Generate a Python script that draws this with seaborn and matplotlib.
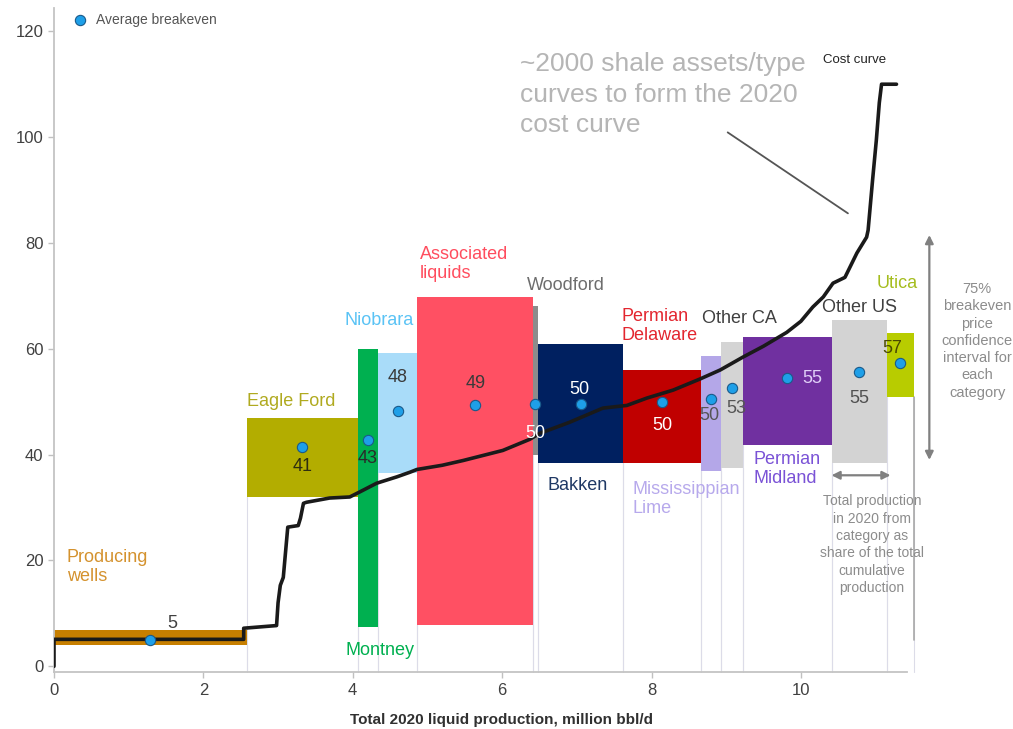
import numpy as np
import pandas as pd
import matplotlib
matplotlib.use("Agg")
import matplotlib.pyplot as plt
import seaborn as sns

# ---------------- data ----------------
categories = ["Producing wells", "Eagle Ford", "Montney", "Niobrara", "Associated liquids",
              "Woodford", "Bakken", "Permian Delaware", "Mississippian Lime", "Other CA",
              "Permian Midland", "Other US", "Utica"]
production = [2.58, 1.49, 0.27, 0.52, 1.55, 0.07, 1.14, 1.04, 0.27, 0.29, 1.19, 0.74, 0.36]
ci_low = [4.1, 32.0, 7.5, 36.6, 7.8, 40.0, 38.4, 38.4, 37.0, 37.5, 41.8, 38.4, 50.9]
ci_high = [6.8, 47.0, 60.0, 59.3, 69.8, 68.0, 61.0, 56.0, 58.6, 61.3, 62.2, 65.4, 63.0]
avg_breakeven = [5.0, 41.4, 42.7, 48.2, 49.3, 49.5, 49.5, 49.9, 50.5, 52.5, 54.4, 55.6, 57.3]
avg_labels = ["5", "41", "43", "48", "49", "50", "50", "50", "50", "53", "55", "55", "57"]

curve_x = [0, 0, 2.54, 2.54, 2.98, 3.0, 3.03, 3.07, 3.13, 3.27, 3.3, 3.34, 3.38, 3.69, 3.96,
           4.1, 4.32, 4.59, 4.77, 4.86, 5.2, 5.48, 6.01, 6.37, 6.5, 6.9, 7.35, 7.67, 7.94,
           8.29, 8.65, 8.92, 9.22, 9.5, 9.81, 10.0, 10.16, 10.3, 10.43, 10.59, 10.75, 10.88,
           10.9, 10.96, 11.01, 11.05, 11.08, 11.28]
curve_y = [0, 5.1, 5.1, 7.2, 7.7, 12.0, 15.3, 16.8, 26.3, 26.6, 28.0, 30.8, 31.0, 31.8, 32.0,
           33.0, 34.6, 35.8, 36.7, 37.2, 38.0, 38.9, 40.8, 42.9, 44.0, 46.1, 48.8, 49.3, 50.7,
           52.2, 54.3, 56.0, 58.4, 60.5, 63.1, 65.2, 67.9, 69.8, 72.4, 73.5, 78.1, 81.1,
           82.4, 91.9, 99.4, 106.5, 110.0, 110.0]

# ---------------- styles / layout ----------------
box_colors = ["#c77f00", "#b3ad00", "#00b050", "#a9dcf9", "#ff5063", "#8c8c8c", "#002060",
              "#c00000", "#b4a7e8", "#d4d4d4", "#7030a0", "#d3d3d3", "#b8cc00"]
name_text = ["Producing\nwells", "Eagle Ford", "Montney", "Niobrara", "Associated\nliquids",
             "Woodford", "Bakken", "Permian\nDelaware", "Mississippian\nLime", "Other CA",
             "Permian\nMidland", "Other US", "Utica"]
name_pos = [(0.17, 18.8, "left"), (2.58, 50.1, "left"), (4.36, 3.0, "center"),
            (4.35, 65.4, "center"), (4.9, 76.1, "left"), (6.33, 72.0, "left"),
            (6.61, 34.2, "left"), (7.6, 64.3, "left"), (7.74, 31.7, "left"),
            (8.67, 65.8, "left"), (9.37, 37.2, "left"), (10.28, 67.9, "left"),
            (11.02, 72.4, "left")]
name_colors = ["#d4922e", "#b0aa20", "#00b050", "#5ac3f5", "#ff4d5e", "#6d6d6d", "#1f3864",
               "#e3262f", "#b7a9ec", "#404040", "#7a52d6", "#404040", "#a5bd1e"]
val_pos = [(1.58, 8.1), (3.33, 37.8), (4.2, 39.3), (4.6, 54.6), (5.64, 53.5), (6.45, 44.0),
           (7.04, 52.4), (8.14, 45.6), (8.78, 47.4), (9.13, 48.8), (10.15, 54.4),
           (10.78, 50.7), (11.23, 60.1)]
val_colors = ["#404040", "#2e2e10", "#2a2a2a", "#3a3a3a", "#3a3a3a", "#ffffff", "#ffffff",
              "#ffffff", "#555555", "#555555", "#e0d0f8", "#505050", "#4a4a00"]

sns.set_theme(style="white")
plt.rcParams["font.family"] = ["Liberation Sans", "DejaVu Sans"]

fig = plt.figure(figsize=(10.13, 7.29), dpi=100)
ax = fig.add_axes([0.0533, 0.078, 0.842, 0.911])

right = np.cumsum(production)
left = right - np.array(production)
mid = (left + right) / 2
low = np.array(ci_low)
high = np.array(ci_high)

# faint separator lines
for l, r, b in zip(left, right, low):
    for xv in (l, r):
        ax.plot([xv, xv], [-1.1, b], color="#dcdce8", lw=0.8, zorder=1, clip_on=False)
ax.plot([right[-1], right[-1]], [4.9, low[-1]], color="#a8a8a8", lw=1.2, zorder=1, clip_on=False)

# confidence boxes
ax.bar(left, high - low, bottom=low, width=production, align="edge", color=box_colors,
       edgecolor="none", zorder=2, clip_on=False)

# cost curve
curve = pd.DataFrame({"x": curve_x, "y": curve_y})
sns.lineplot(data=curve, x="x", y="y", sort=False, estimator=None, color="#1a1a1a",
             lw=2.6, ax=ax, zorder=4)

# average breakeven dots
dots = pd.DataFrame({"x": mid, "y": avg_breakeven, "cat": categories})
sns.scatterplot(data=dots, x="x", y="y", s=55, color="#1e9fe8", edgecolor="#1a5a8a",
                linewidth=0.8, ax=ax, zorder=5, label="Average breakeven", clip_on=False)

# value labels
for lab, (vx, vy), c in zip(avg_labels, val_pos, val_colors):
    ax.text(vx, vy, lab, ha="center", va="center", fontsize=13, color=c, zorder=6)

# category labels
for t, (tx, ty, ha), c in zip(name_text, name_pos, name_colors):
    ax.text(tx, ty, t, ha=ha, va="center", fontsize=13, color=c, zorder=6,
            linespacing=1.15, clip_on=False)

# annotations
ax.text(6.24, 116.0, "~2000 shale assets/type\ncurves to form the 2020\ncost curve",
        fontsize=19, color="#b5b5b5", ha="left", va="top", linespacing=1.32)
ax.plot([9.02, 10.63], [100.9, 85.6], color="#555555", lw=1.3)
ax.text(10.72, 114.6, "Cost curve", fontsize=9.5, color="#222222", ha="center", va="center")

ax.annotate("", xy=(11.72, 81.5), xytext=(11.72, 39.0),
            arrowprops=dict(arrowstyle="<|-|>", color="#808080", lw=1.6,
                            mutation_scale=12, shrinkA=0, shrinkB=0),
            annotation_clip=False)
ax.text(12.36, 61.5, "75%\nbreakeven\nprice\nconfidence\ninterval for\neach\ncategory",
        fontsize=10.5, color="#8c8c8c", ha="center", va="center", linespacing=1.3,
        clip_on=False)
ax.annotate("", xy=(11.2, 36.1), xytext=(10.41, 36.1),
            arrowprops=dict(arrowstyle="<|-|>", color="#808080", lw=1.6,
                            mutation_scale=12, shrinkA=0, shrinkB=0),
            annotation_clip=False)
ax.text(10.95, 23.0, "Total production\nin 2020 from\ncategory as\nshare of the total\ncumulative\nproduction",
        fontsize=10, color="#8c8c8c", ha="center", va="center", linespacing=1.3)

# axes
ax.set_xlim(0, 11.42)
ax.set_ylim(-1.1, 124.4)
ax.set_xticks([0, 2, 4, 6, 8, 10])
ax.set_yticks([0, 20, 40, 60, 80, 100, 120])
ax.tick_params(axis="both", labelsize=12, colors="#404040", length=4, width=1,
               direction="out", left=True, bottom=True)
ax.tick_params(axis="both", color="#c0c0c0")
for s in ("top", "right"):
    ax.spines[s].set_visible(False)
for s in ("left", "bottom"):
    ax.spines[s].set_color("#c4c4c4")
    ax.spines[s].set_linewidth(1.3)
ax.set_ylabel("")
ax.set_xlabel("Total 2020 liquid production, million bbl/d", fontsize=11, fontweight="bold",
              color="#303030")
ax.xaxis.set_label_coords(0.525, -0.062)

leg = ax.legend(loc="upper left", bbox_to_anchor=(0.005, 1.005), frameon=False,
                fontsize=10, handletextpad=0.1, borderaxespad=0.2, markerscale=1.0)
for t in leg.get_texts():
    t.set_color("#555555")

fig.savefig("out.png", dpi=100)
